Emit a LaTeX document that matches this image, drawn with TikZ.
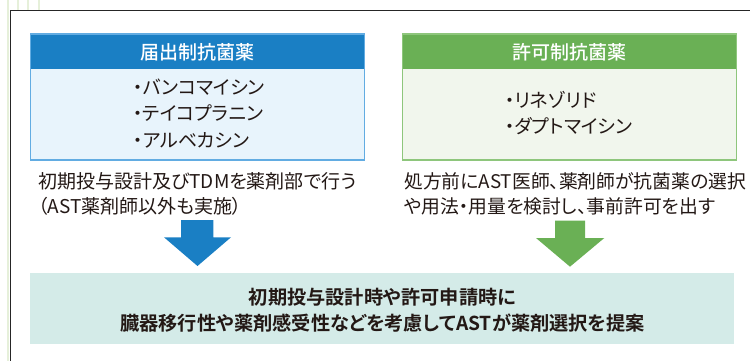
\documentclass[tikz,border=0pt]{standalone}
\usepackage{fontspec}
\setmainfont{Noto Sans CJK JP}[RawFeature=+palt]
\newfontfamily\jpbold{Noto Sans CJK JP Bold}[RawFeature=+palt]
\newfontfamily\jpmed{Noto Sans CJK JP Medium}[RawFeature=+palt]
\definecolor{hdrblue}{HTML}{1A7FC4}
\definecolor{bodyblue}{HTML}{E8F4FC}
\definecolor{edgeblue}{HTML}{62ACE2}
\definecolor{hdrgreen}{HTML}{6AB055}
\definecolor{bodygreen}{HTML}{F1F6ED}
\definecolor{edgegreen}{HTML}{8EC67C}
\definecolor{teal}{HTML}{D4EBE8}
\definecolor{ink}{HTML}{231815}
\definecolor{pagegreen}{HTML}{E6F0DA}
\tikzset{
  hdrtext/.style={text=white,font=\jpmed\fontsize{19}{22}\selectfont,inner sep=0pt},
  itemtext/.style={text=ink,font=\fontsize{19}{22}\selectfont,inner sep=0pt,anchor=west},
  notetext/.style={text=ink,font=\fontsize{19}{25}\selectfont,inner sep=0pt,align=left,anchor=west},
  resulttext/.style={text=ink,font=\jpbold\fontsize{19.2}{26.5}\selectfont,inner sep=0pt,align=center}
}
\begin{document}
\begin{tikzpicture}[x=1pt,y=-1pt]
\useasboundingbox (0,0) rectangle (750,361);
% page edge lines
\fill[pagegreen] (6.7,0) rectangle (8.7,361);
\foreach \xx in {18,28,39} \fill[pagegreen] (\xx-0.8,0) rectangle (\xx+0.8,10);
% frame
\draw[line width=1.4pt,color=black!85] (10.7,361) -- (10.7,10.7) -- (750,10.7);
% blue box
\fill[bodyblue] (30.7,34) rectangle (364.3,160);
\fill[hdrblue] (30.7,34) rectangle (364.3,69.3);
\draw[edgeblue,line width=1.2pt] (30.7,34) rectangle (364.3,160);
\node[hdrtext] (bluehdr) at (197.5,52) {届出制抗菌薬};
\node[itemtext] (b1) at (133,87) {・バンコマイシン};
\node[itemtext] (b2) at (133,113) {・テイコプラニン};
\node[itemtext] (b3) at (133,140) {・アルベカシン};
% green box
\fill[bodygreen] (402.3,34) rectangle (736.7,160);
\fill[hdrgreen] (402.3,34) rectangle (736.7,69.3);
\draw[edgegreen,line width=1.2pt] (402.3,34) rectangle (736.7,160);
\node[hdrtext] (greenhdr) at (569.5,52) {許可制抗菌薬};
\node[itemtext] (g1) at (505,100) {・リネゾリド};
\node[itemtext] (g2) at (505,126) {・ダプトマイシン};
% notes
\node[notetext] (leftnote) at (38,193.5) {初期投与設計及びTDMを薬剤部で行う\\（AST薬剤師以外も実施）};
\node[notetext,font=\fontsize{18.8}{25}\selectfont] (rightnote) at (404,193.5) {処方前にAST医師、薬剤師が抗菌薬の選択\\や用法・用量を検討し、事前許可を出す};
% arrows
\fill[hdrblue] (181,220) -- (213.3,220) -- (213.3,237.3) -- (231,237.3) -- (197.5,266) -- (164,237.3) -- (181,237.3) -- cycle;
\fill[hdrgreen] (555,220.5) -- (585,220.5) -- (585,238) -- (604.3,238) -- (570,266.7) -- (536,238) -- (555,238) -- cycle;
% result box
\fill[teal] (30,272.7) rectangle (734.3,343.7);
\node[resulttext] (result) at (382.5,310) {初期投与設計時や許可申請時に\\臓器移行性や薬剤感受性などを考慮してASTが薬剤選択を提案};
\end{tikzpicture}
\end{document}
